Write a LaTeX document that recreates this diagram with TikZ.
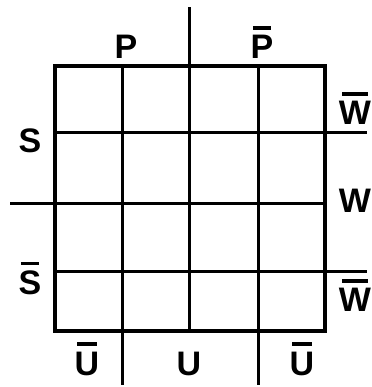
\documentclass[tikz,border=0pt]{standalone}
\usepackage{fontspec}
\setmainfont{Liberation Sans}
\usepackage{tikz}
\newcommand{\nbar}[1]{\setbox0\hbox{#1}\rlap{\kern0.1\wd0\rule[\dimexpr\ht0+6pt\relax]{0.8\wd0}{3.5pt}}\box0}
\tikzset{lbl/.style={anchor=base,inner sep=0pt,font=\fontsize{34}{34}\selectfont\bfseries}}
\begin{document}
\begin{tikzpicture}[x=1pt,y=1pt]
\useasboundingbox (0,0) rectangle (371,387);
% objects at depth 100:
\path[draw=black,line width=3pt] (122,56) -- (122,321);
\path[draw=black,line width=3pt] (189,56) -- (189,321);
\path[draw=black,line width=3pt] (258,56) -- (258,321);
\path[draw=black,line width=3pt] (55,254) -- (325,254);
\path[draw=black,line width=3pt] (55,183) -- (325,183);
\path[draw=black,line width=3pt] (55,115) -- (325,115);
% objects at depth 50:
\path[draw=black,line width=4.5pt] (55,56) rectangle (325,321);
\draw[black,line width=3pt] (189,321) -- (189,380);
\draw[black,line width=3pt] (55,183) -- (10,183);
\draw[black,line width=3pt] (325,254) -- (367,254);
\draw[black,line width=3pt] (325,115) -- (367,115);
\draw[black,line width=3pt] (122,56) -- (122,2);
\draw[black,line width=3pt] (258,56) -- (258,2);
% labels:
\node[lbl] (p) at (126,328) {P};
\node[lbl] (np) at (262,328) {\nbar{P}};
\node[lbl] (s) at (30,234) {S};
\node[lbl] (ns) at (30,92) {\nbar{S}};
\node[lbl] (nw1) at (355,262) {\nbar{W}};
\node[lbl] (w) at (355,174) {W};
\node[lbl] (nw2) at (355,75) {\nbar{W}};
\node[lbl] (nu1) at (87,12) {\nbar{U}};
\node[lbl] (u) at (189,12) {U};
\node[lbl] (nu2) at (302,12) {\nbar{U}};
\end{tikzpicture}
\end{document}
